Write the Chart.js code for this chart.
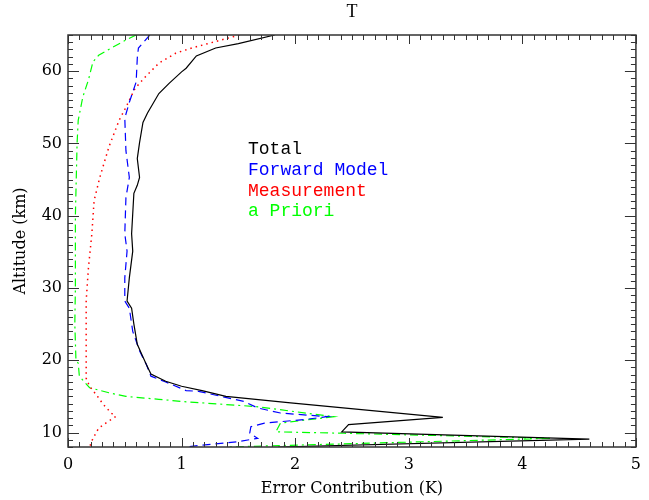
<!DOCTYPE html>
<html>
<head>
<meta charset="utf-8">
<script src="https://cdn.jsdelivr.net/npm/chart.js@4.4.0/dist/chart.umd.min.js"></script>
<style>
  html, body { margin: 0; padding: 0; background: #fff; }
</style>
</head>
<body>
<canvas id="graficoT" width="649" height="500"></canvas>
<script>
// Eixos
const xTicks = [0, 1, 2, 3, 4, 5];
const yTicks = [10, 20, 30, 40, 50, 60];

// Total (linha preta)
const totalAlt = [65.0, 63.8, 63.2, 62.1, 60.4, 59.9, 58.3, 56.9, 54.2, 52.9, 50.1, 47.9, 45.3, 44.2, 43.1, 40.3, 37.5, 35.1, 31.4, 28.2, 27.2, 25.0, 22.2, 20.8, 19.4, 18.1, 17.1, 16.4, 15.8, 15.0, 14.1, 12.1, 11.1, 10.1, 9.1, 8.0];
const totalErr = [1.82, 1.50, 1.30, 1.13, 1.04, 1.00, 0.89, 0.80, 0.70, 0.66, 0.63, 0.61, 0.63, 0.61, 0.58, 0.57, 0.56, 0.57, 0.54, 0.52, 0.56, 0.58, 0.61, 0.65, 0.69, 0.73, 0.86, 1.00, 1.18, 1.39, 1.96, 3.30, 2.47, 2.41, 4.59, 1.85];

// Forward Model (azul tracejado)
const fwdAlt = [65.0, 63.2, 61.8, 58.5, 55.7, 53.5, 49.0, 45.3, 42.5, 37.5, 35.1, 31.4, 28.2, 27.2, 24.0, 21.3, 19.4, 17.8, 17.0, 15.8, 15.7, 14.3, 13.4, 12.7, 12.2, 11.8, 11.3, 10.8, 9.9, 9.2, 8.75, 8.2, 8.0];
const fwdErr = [0.72, 0.62, 0.61, 0.60, 0.54, 0.50, 0.51, 0.54, 0.51, 0.50, 0.52, 0.50, 0.50, 0.54, 0.57, 0.63, 0.69, 0.73, 0.86, 1.04, 1.15, 1.55, 1.67, 1.87, 2.28, 2.08, 1.73, 1.61, 1.60, 1.67, 1.50, 1.15, 1.05];

// Measurement (vermelho pontilhado)
const measAlt = [65.0, 64.1, 63.2, 62.5, 61.1, 59.2, 57.6, 55.0, 53.2, 49.5, 45.3, 42.1, 37.5, 32.8, 28.2, 23.6, 19.9, 17.5, 16.4, 15.0, 13.9, 12.7, 12.2, 11.5, 10.6, 9.2, 8.0];
const measErr = [1.51, 1.30, 1.09, 0.95, 0.80, 0.68, 0.59, 0.51, 0.45, 0.36, 0.28, 0.23, 0.21, 0.18, 0.16, 0.16, 0.16, 0.16, 0.19, 0.26, 0.31, 0.38, 0.42, 0.35, 0.27, 0.22, 0.19];

// a Priori (verde traço-ponto)
const aprAlt = [65.0, 64.3, 63.2, 62.2, 61.3, 58.8, 56.4, 53.2, 50.0, 40.0, 30.0, 25.0, 20.0, 19.6, 17.8, 16.2, 15.5, 15.0, 14.6, 14.3, 13.6, 12.2, 11.3, 10.1, 9.9, 9.2, 8.0];
const aprErr = [0.60, 0.51, 0.38, 0.27, 0.22, 0.18, 0.13, 0.09, 0.08, 0.065, 0.065, 0.06, 0.07, 0.09, 0.10, 0.19, 0.36, 0.51, 0.80, 1.00, 1.65, 2.34, 1.87, 1.83, 2.43, 4.26, 1.40];

const pts = (xs, ys) => xs.map((x, i) => ({ x: x, y: ys[i] }));

const legendas = [
  { text: 'Total', color: '#000000' },
  { text: 'Forward Model', color: '#0000ff' },
  { text: 'Measurement', color: '#ff0000' },
  { text: 'a Priori', color: '#00ff00' }
];

// moldura, ticks internos, titulo e legenda
const molduraIDL = {
  id: 'molduraIDL',
  afterDraw(chart) {
    const { ctx, chartArea: a, scales } = chart;
    const sx = scales.x, sy = scales.y;
    ctx.save();
    ctx.strokeStyle = '#333';
    ctx.lineWidth = 1.5;
    ctx.strokeRect(a.left, a.top, a.right - a.left, a.bottom - a.top);

    ctx.lineWidth = 1;
    ctx.beginPath();
    for (let i = 0; i <= 50; i++) {
      const v = i / 10;
      const px = Math.round(sx.getPixelForValue(v)) + 0.5;
      const len = i % 10 === 0 ? 9 : 5;
      ctx.moveTo(px, a.bottom); ctx.lineTo(px, a.bottom - len);
      ctx.moveTo(px, a.top); ctx.lineTo(px, a.top + len);
    }
    for (let v = 8; v <= 65; v++) {
      const py = Math.round(sy.getPixelForValue(v)) + 0.5;
      const len = v % 10 === 0 ? 11 : 5;
      ctx.moveTo(a.left, py); ctx.lineTo(a.left + len, py);
      ctx.moveTo(a.right, py); ctx.lineTo(a.right - len, py);
    }
    ctx.stroke();

    ctx.fillStyle = '#000';
    ctx.font = '18px "Liberation Serif"';
    ctx.textAlign = 'center';
    ctx.textBaseline = 'middle';
    ctx.fillText('T', (a.left + a.right) / 2, 12);

    ctx.font = '18px "Liberation Mono"';
    ctx.textAlign = 'left';
    const ys = [149, 170, 191, 211];
    legendas.forEach((l, i) => {
      ctx.fillStyle = l.color;
      ctx.fillText(l.text, 248, ys[i]);
    });
    ctx.restore();
  }
};

const fonteEixo = { family: 'DejaVu Serif', size: 16 };

const ctx = document.getElementById('graficoT').getContext('2d');
new Chart(ctx, {
  type: 'scatter',
  data: {
    datasets: [
      { label: 'Total', data: pts(totalErr, totalAlt), borderColor: '#000000', borderWidth: 1.2, showLine: true, pointRadius: 0 },
      { label: 'Forward Model', data: pts(fwdErr, fwdAlt), borderColor: '#0000ff', borderWidth: 1.2, borderDash: [8, 5], showLine: true, pointRadius: 0 },
      { label: 'Measurement', data: pts(measErr, measAlt), borderColor: '#ff0000', borderWidth: 1.5, borderDash: [1.5, 4], showLine: true, pointRadius: 0 },
      { label: 'a Priori', data: pts(aprErr, aprAlt), borderColor: '#00ff00', borderWidth: 1.2, borderDash: [8, 4, 2, 4], showLine: true, pointRadius: 0 }
    ]
  },
  options: {
    responsive: false,
    animation: false,
    layout: { padding: { top: 35, right: 8, left: 0, bottom: 0 } },
    plugins: { legend: { display: false }, tooltip: { enabled: false } },
    scales: {
      x: {
        type: 'linear', min: 0, max: 5,
        afterBuildTicks: s => { s.ticks = xTicks.map(v => ({ value: v })); },
        afterFit: s => { s.height = 53; },
        grid: { display: false, drawTicks: false },
        border: { display: false },
        ticks: { font: fonteEixo, color: '#000', padding: 8, maxRotation: 0 },
        title: { display: true, text: 'Error Contribution (K)', font: fonteEixo, color: '#000', padding: { top: 0, bottom: 2 } }
      },
      y: {
        type: 'linear', min: 8, max: 65,
        afterBuildTicks: s => { s.ticks = yTicks.map(v => ({ value: v })); },
        afterFit: s => { s.width = 68; },
        grid: { display: false, drawTicks: false },
        border: { display: false },
        ticks: { font: fonteEixo, color: '#000', padding: 6 },
        title: { display: true, text: 'Altitude (km)', font: fonteEixo, color: '#000', padding: { top: 11, bottom: 0 } }
      }
    }
  },
  plugins: [molduraIDL]
});
</script>
</body>
</html>
